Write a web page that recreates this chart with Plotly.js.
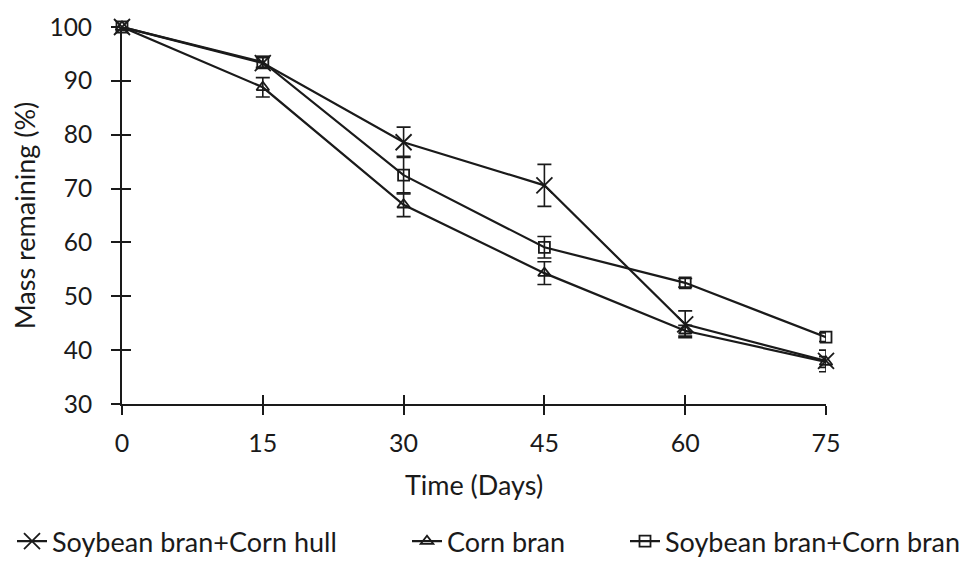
<!DOCTYPE html>
<html><head><meta charset="utf-8">
<script src="https://cdn.plot.ly/plotly-3.0.1.min.js"></script>
<style>html,body{margin:0;padding:0;background:#fff}</style>
</head><body><div id="chart" style="width:967px;height:566px"></div>
<script>
const days = [0, 15, 30, 45, 60, 75];
const seriesNames = ["Soybean bran+Corn hull", "Corn bran", "Soybean bran+Corn bran"];
const hullMass = [100, 93.3, 78.6, 70.6, 44.8, 38.0];
const hullErr = [0.6, 1.0, 2.8, 3.9, 2.5, 2.0];
const cornMass = [100, 88.8, 67.0, 54.3, 43.6, 37.8];
const cornErr = [0.5, 1.8, 2.2, 2.1, 1.0, 1.0];
const mixMass = [100, 93.5, 72.5, 59.1, 52.5, 42.4];
const mixErr = [0.5, 1.0, 3.5, 2.0, 0.8, 0.8];
const xTicks = [0, 15, 30, 45, 60, 75];
const yTicks = [30, 40, 50, 60, 70, 80, 90, 100];

const ink = '#1a1a1a';
const font = 'Lato, "Open Sans", sans-serif';
function tr(name, y, err, symbol, size, leg) {
  return {
    x: days, y: y, name: name, type: 'scatter', mode: 'lines+markers', legend: leg,
    line: {color: ink, width: 2.2},
    marker: {symbol: symbol, size: size, color: ink, line: {color: ink, width: 1.8}},
    error_y: {type: 'data', array: err, visible: true, color: ink, thickness: 1.6, width: 7},
    cliponaxis: false
  };
}
const data = [
  tr(seriesNames[0], hullMass, hullErr, 'x-thin-open', 16, 'legend'),
  tr(seriesNames[1], cornMass, cornErr, 'triangle-up-open', 11, 'legend2'),
  tr(seriesNames[2], mixMass, mixErr, 'square-open', 11, 'legend3'),
  {x: [0], y: [30], xaxis: 'x2', yaxis: 'y2', mode: 'markers', marker: {opacity: 0}, showlegend: false, hoverinfo: 'skip'}
];
function leg(xpx) {
  return {orientation: 'h', xref: 'container', yref: 'container', x: xpx / 967, xanchor: 'left',
          y: 0.043, yanchor: 'middle', font: {family: font, size: 27, color: ink},
          itemwidth: 30, borderwidth: 0, bgcolor: 'rgba(0,0,0,0)'};
}
const layout = {
  width: 967, height: 566,
  margin: {l: 122, r: 141, t: 27, b: 162},
  paper_bgcolor: '#fff', plot_bgcolor: '#fff',
  font: {family: font, color: ink, size: 24},
  showlegend: true,
  legend: leg(12), legend2: leg(407), legend3: leg(625),
  xaxis: {range: [0, 75], tickvals: xTicks, ticktext: xTicks.map(String),
          showline: true, linecolor: ink, linewidth: 2, showgrid: false, zeroline: false,
          ticks: 'outside', ticklen: 9, tickwidth: 2, tickcolor: ink, ticklabelstandoff: 7,
          tickfont: {size: 25, family: font},
          title: {text: 'Time (Days)', font: {size: 27, family: font}, standoff: 20}},
  yaxis: {range: [30, 100], tickvals: yTicks, ticktext: yTicks.map(String),
          showline: true, linecolor: ink, linewidth: 2, showgrid: false, zeroline: false,
          ticks: 'outside', ticklen: 9, tickwidth: 2, tickcolor: ink, ticklabelstandoff: 14,
          tickfont: {size: 24.5, family: font},
          title: {text: 'Mass remaining (%)', font: {size: 27, family: font}, standoff: 6}},
  xaxis2: {overlaying: 'x', matching: 'x', range: [0, 75], tickvals: xTicks, showticklabels: false,
           ticks: 'inside', ticklen: 9, tickwidth: 2, tickcolor: ink, showgrid: false, zeroline: false, showline: false},
  yaxis2: {overlaying: 'y', range: [30, 100], tickvals: yTicks, showticklabels: false,
           ticks: 'inside', ticklen: 9, tickwidth: 2, tickcolor: ink, showgrid: false, zeroline: false, showline: false}
};
Plotly.newPlot('chart', data, layout, {displayModeBar: false, staticPlot: true});
</script></body></html>
